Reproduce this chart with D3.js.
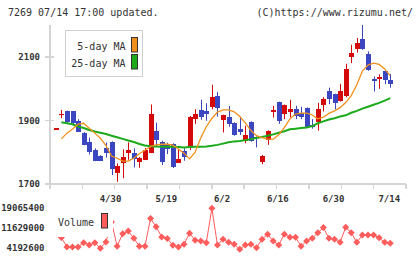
<!DOCTYPE html>
<html>
<head>
<meta charset="utf-8">
<script src="https://cdn.jsdelivr.net/npm/d3@7"></script>
<style>
  html, body { margin: 0; padding: 0; background: #fff; }
  svg { display: block; font-family: "DejaVu Sans Mono", monospace; }
</style>
</head>
<body>
<svg id="chart" width="420" height="259"></svg>
<script>
// ---------- Data ----------
const dates = ["4/15","4/16","4/17","4/20","4/21","4/22","4/23","4/24","4/27","4/28",
  "4/30","5/1","5/7","5/8","5/11","5/12","5/13","5/14","5/15","5/18",
  "5/19","5/20","5/21","5/22","5/25","5/26","5/27","5/28","5/29","6/1",
  "6/2","6/3","6/4","6/5","6/8","6/9","6/10","6/11","6/12","6/15",
  "6/16","6/17","6/18","6/19","6/22","6/23","6/24","6/25","6/26","6/29",
  "6/30","7/1","7/2","7/3","7/6","7/7","7/8","7/9","7/10","7/13","7/14"];

const open  = [1875,1920,1931,1930,1898,1860,1833,1807,1789,1814,
  1833,1736,1767,1799,1799,1768,1777,1799,1867,1831,
  1824,1826,1767,1804,1816,1905,1933,1928,1943,1977,
  1902,1912,1893,1873,1835,1896,1849,1770,1839,1925,
  1958,1920,1925,1936,1923,1940,1885,1896,1947,1991,
  1983,1962,1977,2098,2126,2157,2109,2031,2031,2054,2028];
const high  = [1875,1933,1931,1930,1904,1863,1846,1812,1791,1830,
  1834,1765,1809,1831,1812,1785,1813,1950,1893,1836,
  1830,1828,1810,1812,1914,1935,1965,1954,2012,1989,
  1918,1946,1894,1912,1883,1897,1850,1791,1869,1946,
  1959,1950,1965,1946,1943,1941,1904,1955,1973,2003,
  1984,2015,2078,2138,2159,2200,2117,2038,2045,2054,2046];
const low   = [1875,1907,1893,1887,1864,1822,1793,1772,1772,1783,
  1728,1707,1718,1776,1752,1751,1775,1797,1820,1760,
  1794,1750,1767,1773,1807,1889,1902,1899,1935,1912,
  1862,1880,1852,1854,1828,1833,1815,1762,1823,1909,
  1889,1904,1909,1904,1904,1879,1874,1868,1928,1951,
  1935,1959,1973,2080,2113,2122,2056,1991,1999,2014,2003];
const close = [1875,1921,1894,1893,1865,1823,1802,1773,1773,1799,
  1747,1757,1786,1807,1780,1783,1807,1921,1839,1768,
  1811,1752,1779,1786,1912,1920,1912,1919,1975,1938,
  1917,1888,1854,1862,1854,1836,1844,1788,1868,1933,
  1899,1949,1936,1915,1910,1880,1880,1935,1966,1968,
  1954,1991,2062,2112,2143,2124,2057,2025,2038,2028,2016];

const ma5  = [null,1842,1860,1873,1888,1891,1875,1860,1844,1821,
  1788,1781,1772,1772,1781,1795,1806,1818,1823,1825,
  1825,1822,1810,1797,1779,1800,1845,1880,1906,1926,
  1933,1933,1927,1912,1892,1868,1852,1846,1841,1841,
  1855,1877,1905,1920,1923,1923,1917,1905,1910,1922,
  1930,1940,1956,1978,2012,2055,2074,2080,2076,2062,2040];
const ma25 = [null,1894,1891,1888,1881,1876,1870,1865,1861,1857,
  1852,1847,1842,1837,1832,1826,1821,1819,1818,1817,
  1817,1817,1816,1815,1816,1817,1817,1818,1820,1823,
  1827,1831,1834,1835,1838,1841,1845,1848,1852,1856,
  1861,1866,1872,1874,1876,1878,1882,1891,1897,1903,
  1907,1912,1916,1924,1930,1937,1943,1949,1955,1962,1970];

const volume = [null,8200000,4700000,4700000,4700000,6300000,5400000,6300000,4200000,6500000,
  14000000,5000000,9600000,10600000,7900000,5000000,5000000,15300000,12200000,8400000,
  7800000,5300000,4700000,5700000,9800000,7200000,6900000,6300000,19065400,5400000,
  7600000,6400000,5700000,3800000,5400000,5700000,4400000,7600000,9400000,6900000,
  5400000,9400000,8300000,8300000,5000000,6900000,7900000,10000000,11900000,7900000,
  7600000,6400000,12000000,10000000,6400000,9100000,9100000,9100000,8100000,6400000,6100000];

const xTickLabels = ["4/30","5/19","6/2","6/16","6/30","7/14"];
const priceTicks  = [1700, 1900, 2100];
const volumeTicks = [4192600, 11629000, 19065400];

// ---------- Helpers ----------
const C = { up: "#d40a0a", down: "#3c46c0", ma5: "#f0901a", ma25: "#1aaa1a",
            vol: "#ff5c5c", axis: "#d4d4d4", text: "#333" };
const svg = d3.select("#chart");
const fmtVol = d3.format("d");

// plot frame
const P = { l: 50, r: 406, t: 25, b: 184 };
const x = d3.scaleLinear().domain([-1, 63]).range([50.2, 407]);
const y = d3.scaleLinear().domain([1700, 2200]).range([P.b, P.t]);
const yv = d3.scaleLinear().domain([volumeTicks[0], volumeTicks[2]]).range([248.3, 208.3]);

// ---------- Header ----------
svg.append("text").attr("x", 8).attr("y", 15.5).attr("font-size", 10).attr("fill", C.text)
  .text("7269 07/14 17:00 updated.");
svg.append("text").attr("x", 413).attr("y", 15.5).attr("font-size", 10).attr("fill", C.text)
  .attr("text-anchor", "end").text("(C)https://www.rizumu.net/");

// ---------- Axes ----------
const ax = svg.append("g").attr("stroke", C.axis).attr("shape-rendering", "crispEdges");
ax.append("line").attr("x1", P.l).attr("x2", P.l).attr("y1", P.t).attr("y2", P.b + 5).attr("stroke-width", 2);
ax.append("line").attr("x1", P.l).attr("x2", P.r).attr("y1", P.b).attr("y2", P.b).attr("stroke-width", 2);
d3.range(12).forEach(k => {
  const xx = P.l + (P.r - P.l) * k / 11;
  ax.append("line").attr("x1", xx).attr("x2", xx).attr("y1", P.b).attr("y2", P.b + 5).attr("stroke-width", 1.5);
});
priceTicks.forEach(v => {
  ax.append("line").attr("x1", 45).attr("x2", 54).attr("y1", y(v)).attr("y2", y(v)).attr("stroke-width", 1.5);
});

const lbl = svg.append("g").attr("fill", C.text).attr("font-size", 9).attr("font-weight", "bold");
priceTicks.forEach(v => {
  lbl.append("text").attr("x", 40).attr("y", y(v)).attr("dy", "0.35em")
    .attr("text-anchor", "end").text(v);
});
xTickLabels.forEach(d => {
  lbl.append("text").attr("x", x(dates.indexOf(d)) - 1).attr("y", 201.5)
    .attr("text-anchor", "middle").text(d);
});
volumeTicks.forEach(v => {
  lbl.append("text").attr("x", 44.5).attr("y", yv(v)).attr("dy", "0.35em")
    .attr("text-anchor", "end").text(fmtVol(v));
});

// ---------- Candles ----------
const plot = svg.append("g");
const idx = d3.range(dates.length);
const cg = plot.selectAll(".candle").data(idx).enter().append("g")
  .attr("fill", i => close[i] >= open[i] ? C.up : C.down)
  .attr("stroke", i => close[i] >= open[i] ? C.up : C.down);
cg.append("line")
  .attr("x1", i => Math.round(x(i)) + 0.5).attr("x2", i => Math.round(x(i)) + 0.5)
  .attr("y1", i => y(high[i])).attr("y2", i => y(low[i]))
  .attr("stroke-width", 1);
cg.append("rect")
  .attr("stroke", "none").attr("shape-rendering", "crispEdges")
  .attr("x", i => Math.round(x(i)) - 2)
  .attr("width", 5)
  .attr("y", i => y(Math.max(open[i], close[i])))
  .attr("height", i => Math.max(1.5, Math.abs(y(open[i]) - y(close[i]))));

// ---------- Moving averages ----------
const line = d3.line().defined(d => d[1] != null).x(d => x(d[0])).y(d => y(d[1]));
plot.append("path").datum(ma25.map((v, i) => [i, v]))
  .attr("fill", "none").attr("stroke", C.ma25).attr("stroke-width", 2).attr("d", line);
plot.append("path").datum(ma5.map((v, i) => [i, v]))
  .attr("fill", "none").attr("stroke", C.ma5).attr("stroke-width", 1.3).attr("d", line);

// ---------- Price legend ----------
const lg = svg.append("g").attr("font-size", 10).attr("fill", C.text);
lg.append("rect").attr("x", 65.5).attr("y", 30.5).attr("width", 77).attr("height", 46)
  .attr("fill", "#fff").attr("stroke", "#cfcfcf");
[["5-day MA", C.ma5, 49.5, 37.5], ["25-day MA", C.ma25, 67, 54.5]].forEach(([t, col, ty, by]) => {
  lg.append("text").attr("x", 125.5).attr("y", ty).attr("text-anchor", "end").text(t);
  lg.append("rect").attr("x", 131.5).attr("y", by).attr("width", 6).attr("height", 14.5)
    .attr("fill", col).attr("stroke", "#333");
});

// ---------- Volume ----------
const vg = svg.append("g");
const vline = d3.line().defined(d => d[1] != null).x(d => x(d[0])).y(d => yv(d[1]));
vg.append("path").datum(volume.map((v, i) => [i, v]))
  .attr("fill", "none").attr("stroke", C.vol).attr("stroke-width", 1).attr("d", vline);
vg.selectAll(".pt").data(idx.filter(i => volume[i] != null)).enter().append("path")
  .attr("transform", i => `translate(${x(i)},${yv(volume[i])})`)
  .attr("d", "M0,-3.5L3.5,0L0,3.5L-3.5,0Z").attr("fill", C.vol);

// volume legend (white background hides what runs behind it)
vg.append("rect").attr("x", 55).attr("y", 204).attr("width", 58).attr("height", 33).attr("fill", "#fff");
vg.append("text").attr("x", 58).attr("y", 226).attr("font-size", 10).attr("fill", C.text).text("Volume");
vg.append("rect").attr("x", 101.5).attr("y", 213.5).attr("width", 6).attr("height", 14.5)
  .attr("fill", C.vol).attr("stroke", "#333");
</script>
</body>
</html>
